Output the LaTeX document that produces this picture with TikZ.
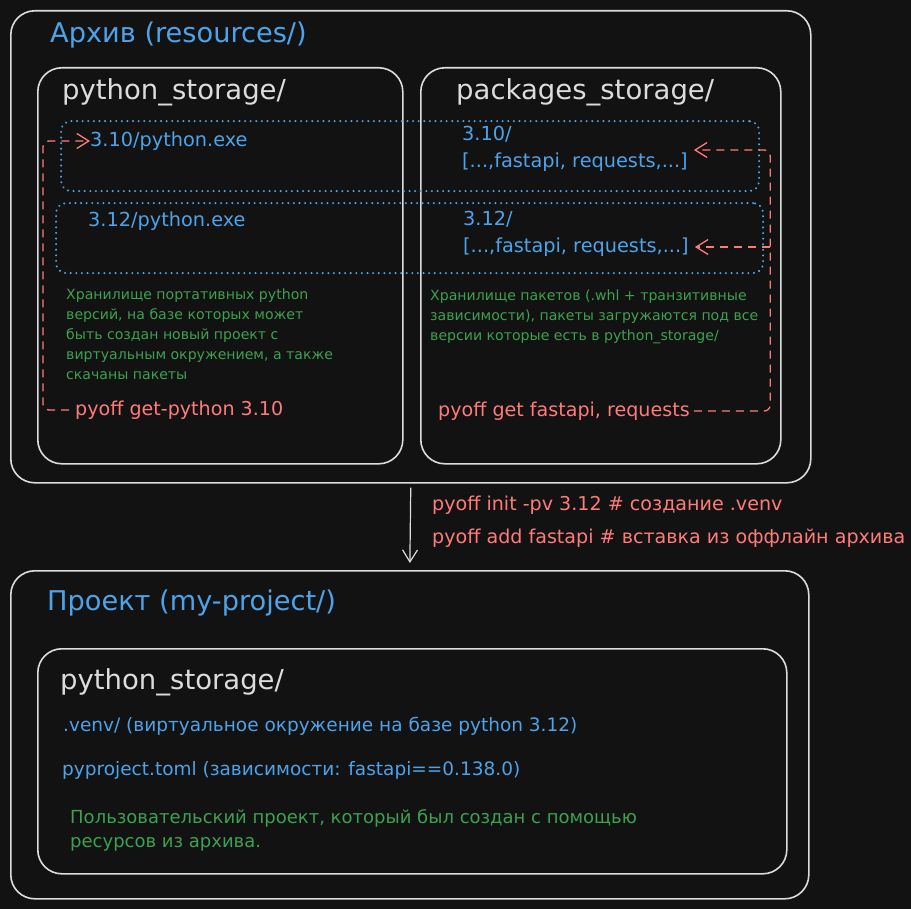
\documentclass[tikz,border=0pt]{standalone}
\usepackage{fontspec}
\setmainfont{DejaVu Sans}
\usetikzlibrary{positioning,arrows.meta,calc}
\definecolor{bgdark}{HTML}{121212}
\definecolor{framegray}{HTML}{DCDCDC}
\definecolor{dirblue}{HTML}{4DA3EA}
\definecolor{cmdred}{HTML}{FF7B7B}
\definecolor{notegreen}{HTML}{3CA150}
\tikzset{
    x=1pt,
    y=-1pt,
    >={Straight Barb[length=12pt,width=15pt]},
    folder/.style = {
        draw=framegray,
        shape=rectangle,
        rounded corners=24pt,
        line width=1.6pt,
        anchor=north west,
        inner sep=0pt
    },
    slot/.style = {
        draw=dirblue,
        shape=rectangle,
        rounded corners=10pt,
        line width=2.2pt,
        line cap=round,
        dash pattern=on 0.1pt off 5.5pt,
        anchor=north west,
        inner sep=0pt
    },
    heading/.style = {
        anchor=west,
        inner sep=0pt,
        text=dirblue,
        font=\fontsize{27.2}{30}\selectfont
    },
    dirname/.style = {
        anchor=west,
        inner sep=0pt,
        text=framegray,
        font=\fontsize{27.5}{32}\selectfont
    },
    entry/.style = {
        anchor=west,
        inner sep=0pt,
        text=dirblue,
        font=\fontsize{19.3}{24}\selectfont
    },
    cmd/.style = {
        anchor=west,
        inner sep=0pt,
        text=cmdred,
        font=\fontsize{19.1}{24}\selectfont
    },
    note/.style = {
        anchor=north west,
        inner sep=0pt,
        align=left,
        text=notegreen,
        font=\fontsize{14.1}{20}\selectfont
    },
    cmdwire/.style = {
        draw=cmdred,
        line width=1.3pt,
        dash pattern=on 8pt off 6pt,
        rounded corners=6pt
    },
    flow/.style = {
        draw=framegray,
        line width=1.2pt
    },
}
\begin{document}
\begin{tikzpicture}
    \fill[bgdark] (0,0) rectangle (911,909);
    \useasboundingbox (0,0) rectangle (911,909);

    % archive
    \node[folder, minimum width=800pt, minimum height=472pt] (archive) at (10,10) {};
    \node[heading] (archivetitle) at (50,35) {Архив (resources/)};
    \node[folder, minimum width=365pt, minimum height=396pt] (pystore) at (37,67) {};
    \node[folder, minimum width=360pt, minimum height=396pt] (pkstore) at (420,67) {};
    \node[dirname] (pystoretitle) at (62,92) {python\_storage/};
    \node[dirname] (pkstoretitle) at (456,92) {packages\_storage/};

    \node[slot, minimum width=698pt, minimum height=70pt] (row310) at (60,120) {};
    \node[slot, minimum width=707pt, minimum height=70pt] (row312) at (55,202) {};

    \node[entry] (py310) at (90,141) {3.10/python.exe};
    \node[entry] (py312) at (88,221) {3.12/python.exe};
    \node[entry] (pk310) at (462,134) {3.10/};
    \node[entry] (pk310list) at (462,162) {[...,fastapi, requests,...]};
    \node[entry] (pk312) at (463,219) {3.12/};
    \node[entry] (pk312list) at (463,247) {[...,fastapi, requests,...]};

    \node[note] (pynote) at (66,289) {Хранилище портативных python\\
        версий, на базе которых может\\
        быть создан новый проект с\\
        виртуальным окружением, а также\\
        скачаны пакеты};
    \node[note] (pknote) at (430,290) {Хранилище пакетов (.whl + транзитивные\\
        зависимости), пакеты загружаются под все\\
        версии которые есть в python\_storage/};

    \node[cmd] (getpy) at (75,410) {pyoff get-python 3.10};
    \node[cmd] (getpk) at (438,411) {pyoff get fastapi, requests};

    \draw[cmdwire, ->, shorten <=6pt] (getpy.west) -- ++(-32,0) |- (py310.west);
    \coordinate (rrail) at ($(getpk.east -| row312.east)+(6,0)$);
    \draw[cmdwire, ->, shorten <=4pt, shorten >=6pt] (getpk.east) -- (rrail) |- ($(pk310list.east)+(0,-12)$);
    \draw[cmdwire, ->, shorten >=6pt] (rrail |- pk312list.east) -- (pk312list.east);

    % commands
    \node[cmd] (initcmd) at (432,505) {pyoff init -pv 3.12 \# создание .venv};
    \node[cmd] (addcmd) at (432,538) {pyoff add fastapi \# вставка из оффлайн архива};

    % project
    \node[folder, minimum width=798pt, minimum height=328pt] (project) at (10,570) {};
    \node[heading] (projecttitle) at (47,603) {Проект (my-project/)};
    \node[folder, minimum width=749pt, minimum height=225pt] (projstore) at (37,648) {};
    \node[dirname] (projstoretitle) at (60,682) {python\_storage/};
    \node[entry, font=\fontsize{18.5}{24}\selectfont] (venv) at (63,726) {.venv/ (виртуальное окружение на базе python 3.12)};
    \node[entry, font=\fontsize{18.5}{24}\selectfont] (pyproject) at (62,770) {pyproject.toml (зависимости: fastapi==0.138.0)};
    \node[note, font=\fontsize{18}{24}\selectfont] (projnote) at (70,809) {Пользовательский проект, который был создан с помощью\\
        ресурсов из архива.};

    \draw[flow, ->, shorten <=4pt, shorten >=7pt] (archive.south) -- (project.north);
\end{tikzpicture}
\end{document}
